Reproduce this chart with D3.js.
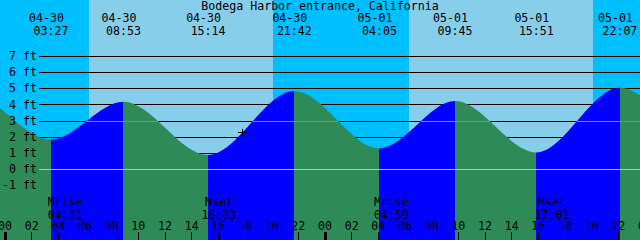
<!DOCTYPE html>
<html>
<head>
<meta charset="utf-8">
<script src="https://cdn.jsdelivr.net/npm/d3@7"></script>
<style>
body{margin:0;background:#fff}
svg{display:block}
text{font-family:"DejaVu Sans Mono",monospace;font-size:11.6px;fill:#000}
</style>
</head>
<body>
<svg width="640" height="240"></svg>
<script>
var title = "Bodega Harbor entrance, California";

// times are hours counted from 04-30 00:00 (first and last two lie off the chart)
var tideTimes   = [-9.33, -2.75, 3.45, 8.883, 15.233, 21.7, 28.083, 33.75, 39.85, 46.117, 52.7, 58.33];
var tideHeights = [1.0, 4.75, 1.85, 4.2, 0.89, 4.87, 1.3, 4.24, 1.05, 5.07, 1.6, 4.3];
var tideDates   = ["04-29","04-29","04-30","04-30","04-30","04-30","05-01","05-01","05-01","05-01","05-02","05-02"];
var tideClock   = ["14:40","21:15","03:27","08:53","15:14","21:42","04:05","09:45","15:51","22:07","04:42","10:20"];

var sunTimes  = [6.3, 20.12, 30.3, 44.12];   // rise, set, rise, set
var moonTimes = [4.517, 16.05, 28.983, 41.017];
var moonNames = ["Mrise","Mset","Mrise","Mset"];
var moonClock = ["04:31","16:03","04:59","17:01"];

var depthLevels = [7,6,5,4,3,2,1,0,-1];
var mslLevel = 3.0;
var datumLevel = 0;
var hourTicks = d3.range(0, 49, 2);

var nowTime = [17.83];
var nowHeight = [2.3];

var W = 640, H = 240;
var x = d3.scaleLinear().domain([0,24]).range([5,325]);
var y = d3.scaleLinear().domain([0,7]).range([169.3,56.7]);
var t0 = x.invert(0), t1 = x.invert(W);

var svg = d3.select("svg");

// day / night columns
var edges = [t0].concat(sunTimes, [t1]);
svg.selectAll().data(d3.range(edges.length-1))
	.enter().append("rect")
	.attr("x", function(i){ return x(edges[i]) })
	.attr("width", function(i){ return x(edges[i+1]) - x(edges[i]) })
	.attr("y", 0).attr("height", H)
	.attr("fill", function(i){ return i % 2 ? "#87CEEB" : "#00BFFF" })
	.attr("shape-rendering", "crispEdges");

// depth lines behind the water
svg.selectAll().data(depthLevels)
	.enter().append("line")
	.attr("x1", 39).attr("x2", W)
	.attr("y1", function(d){ return Math.floor(y(d)) + 0.5 })
	.attr("y2", function(d){ return Math.floor(y(d)) + 0.5 })
	.attr("stroke", "#000")
	.attr("shape-rendering", "crispEdges");

var tide = tideTimes.map(function(t,i){ return {t:t, h:tideHeights[i]} });
var area = d3.area()
	.x(function(d){ return x(d.t) })
	.y0(H)
	.y1(function(d){ return y(d.h) })
	.curve(d3.curveMonotoneX);

svg.append("clipPath").attr("id", "water")
	.append("path").attr("d", area(tide));

var water = svg.append("g").attr("clip-path", "url(#water)");

water.selectAll().data(d3.range(tide.length-1))
	.enter().append("rect")
	.attr("x", function(i){ return x(tideTimes[i]) })
	.attr("width", function(i){ return x(tideTimes[i+1]) - x(tideTimes[i]) })
	.attr("y", 0).attr("height", H)
	.attr("fill", function(i){ return tideHeights[i+1] > tideHeights[i] ? "#0000FF" : "#2E8B57" })
	.attr("shape-rendering", "crispEdges");

water.append("line")
	.attr("x1", 39).attr("x2", W)
	.attr("y1", Math.floor(y(mslLevel)) + 0.5).attr("y2", Math.floor(y(mslLevel)) + 0.5)
	.attr("stroke", "#5F9EA0")
	.attr("shape-rendering", "crispEdges");

water.append("line")
	.attr("x1", 39).attr("x2", W)
	.attr("y1", Math.floor(y(datumLevel)) + 0.5).attr("y2", Math.floor(y(datumLevel)) + 0.5)
	.attr("stroke", "#92D2EE")
	.attr("shape-rendering", "crispEdges");

// depth labels
svg.selectAll().data(depthLevels)
	.enter().append("text")
	.attr("x", 37)
	.attr("y", function(d){ return y(d) + 3.6 })
	.attr("text-anchor", "end")
	.text(function(d){ return d + " ft" });

// title and high/low labels
svg.append("text")
	.attr("x", 320).attr("y", 10)
	.attr("text-anchor", "middle")
	.text(title);

var shown = d3.range(tide.length).filter(function(i){ return tideTimes[i] > t0 && tideTimes[i] < t1 });
svg.selectAll().data(shown)
	.enter().append("text")
	.attr("x", function(i){ return x(tideTimes[i]) - 4.5 })
	.attr("y", 22)
	.attr("text-anchor", "middle")
	.text(function(i){ return tideDates[i] });
svg.selectAll().data(shown)
	.enter().append("text")
	.attr("x", function(i){ return x(tideTimes[i]) })
	.attr("y", 34.5)
	.attr("text-anchor", "middle")
	.text(function(i){ return tideClock[i] });

// moon events
svg.selectAll().data(moonTimes)
	.enter().append("text")
	.attr("x", function(d){ return x(d) })
	.attr("y", 206)
	.attr("text-anchor", "middle")
	.text(function(d,i){ return moonNames[i] });
svg.selectAll().data(moonTimes)
	.enter().append("text")
	.attr("x", function(d){ return x(d) })
	.attr("y", 218.5)
	.attr("text-anchor", "middle")
	.text(function(d,i){ return moonClock[i] });
svg.selectAll().data(moonTimes)
	.enter().append("line")
	.attr("x1", function(d){ return Math.floor(x(d)) + 0.5 })
	.attr("x2", function(d){ return Math.floor(x(d)) + 0.5 })
	.attr("y1", 232).attr("y2", H)
	.attr("stroke", "#000")
	.attr("shape-rendering", "crispEdges");

// hour axis
svg.selectAll().data(hourTicks)
	.enter().append("text")
	.attr("x", function(d){ return x(d) })
	.attr("y", 229.5)
	.attr("text-anchor", "middle")
	.text(function(d){ return d3.format("02")(d % 24) });
svg.selectAll().data(hourTicks)
	.enter().append("rect")
	.attr("x", function(d){ return d % 24 ? Math.floor(x(d)) : Math.floor(x(d)) - 1 })
	.attr("width", function(d){ return d % 24 ? 1 : 3 })
	.attr("y", 232).attr("height", H - 232)
	.attr("fill", "#000")
	.attr("shape-rendering", "crispEdges");

// current time marker
var now = svg.selectAll().data(nowTime)
	.enter().append("g")
	.attr("transform", function(d,i){ return "translate(" + Math.floor(x(d)) + "," + Math.floor(y(nowHeight[i])) + ")" });
now.append("line").attr("x1", -4).attr("x2", 5).attr("y1", 0.5).attr("y2", 0.5)
	.attr("stroke", "#000").attr("shape-rendering", "crispEdges");
now.append("line").attr("x1", 0.5).attr("x2", 0.5).attr("y1", -3).attr("y2", 4)
	.attr("stroke", "#000").attr("shape-rendering", "crispEdges");
</script>
</body>
</html>
